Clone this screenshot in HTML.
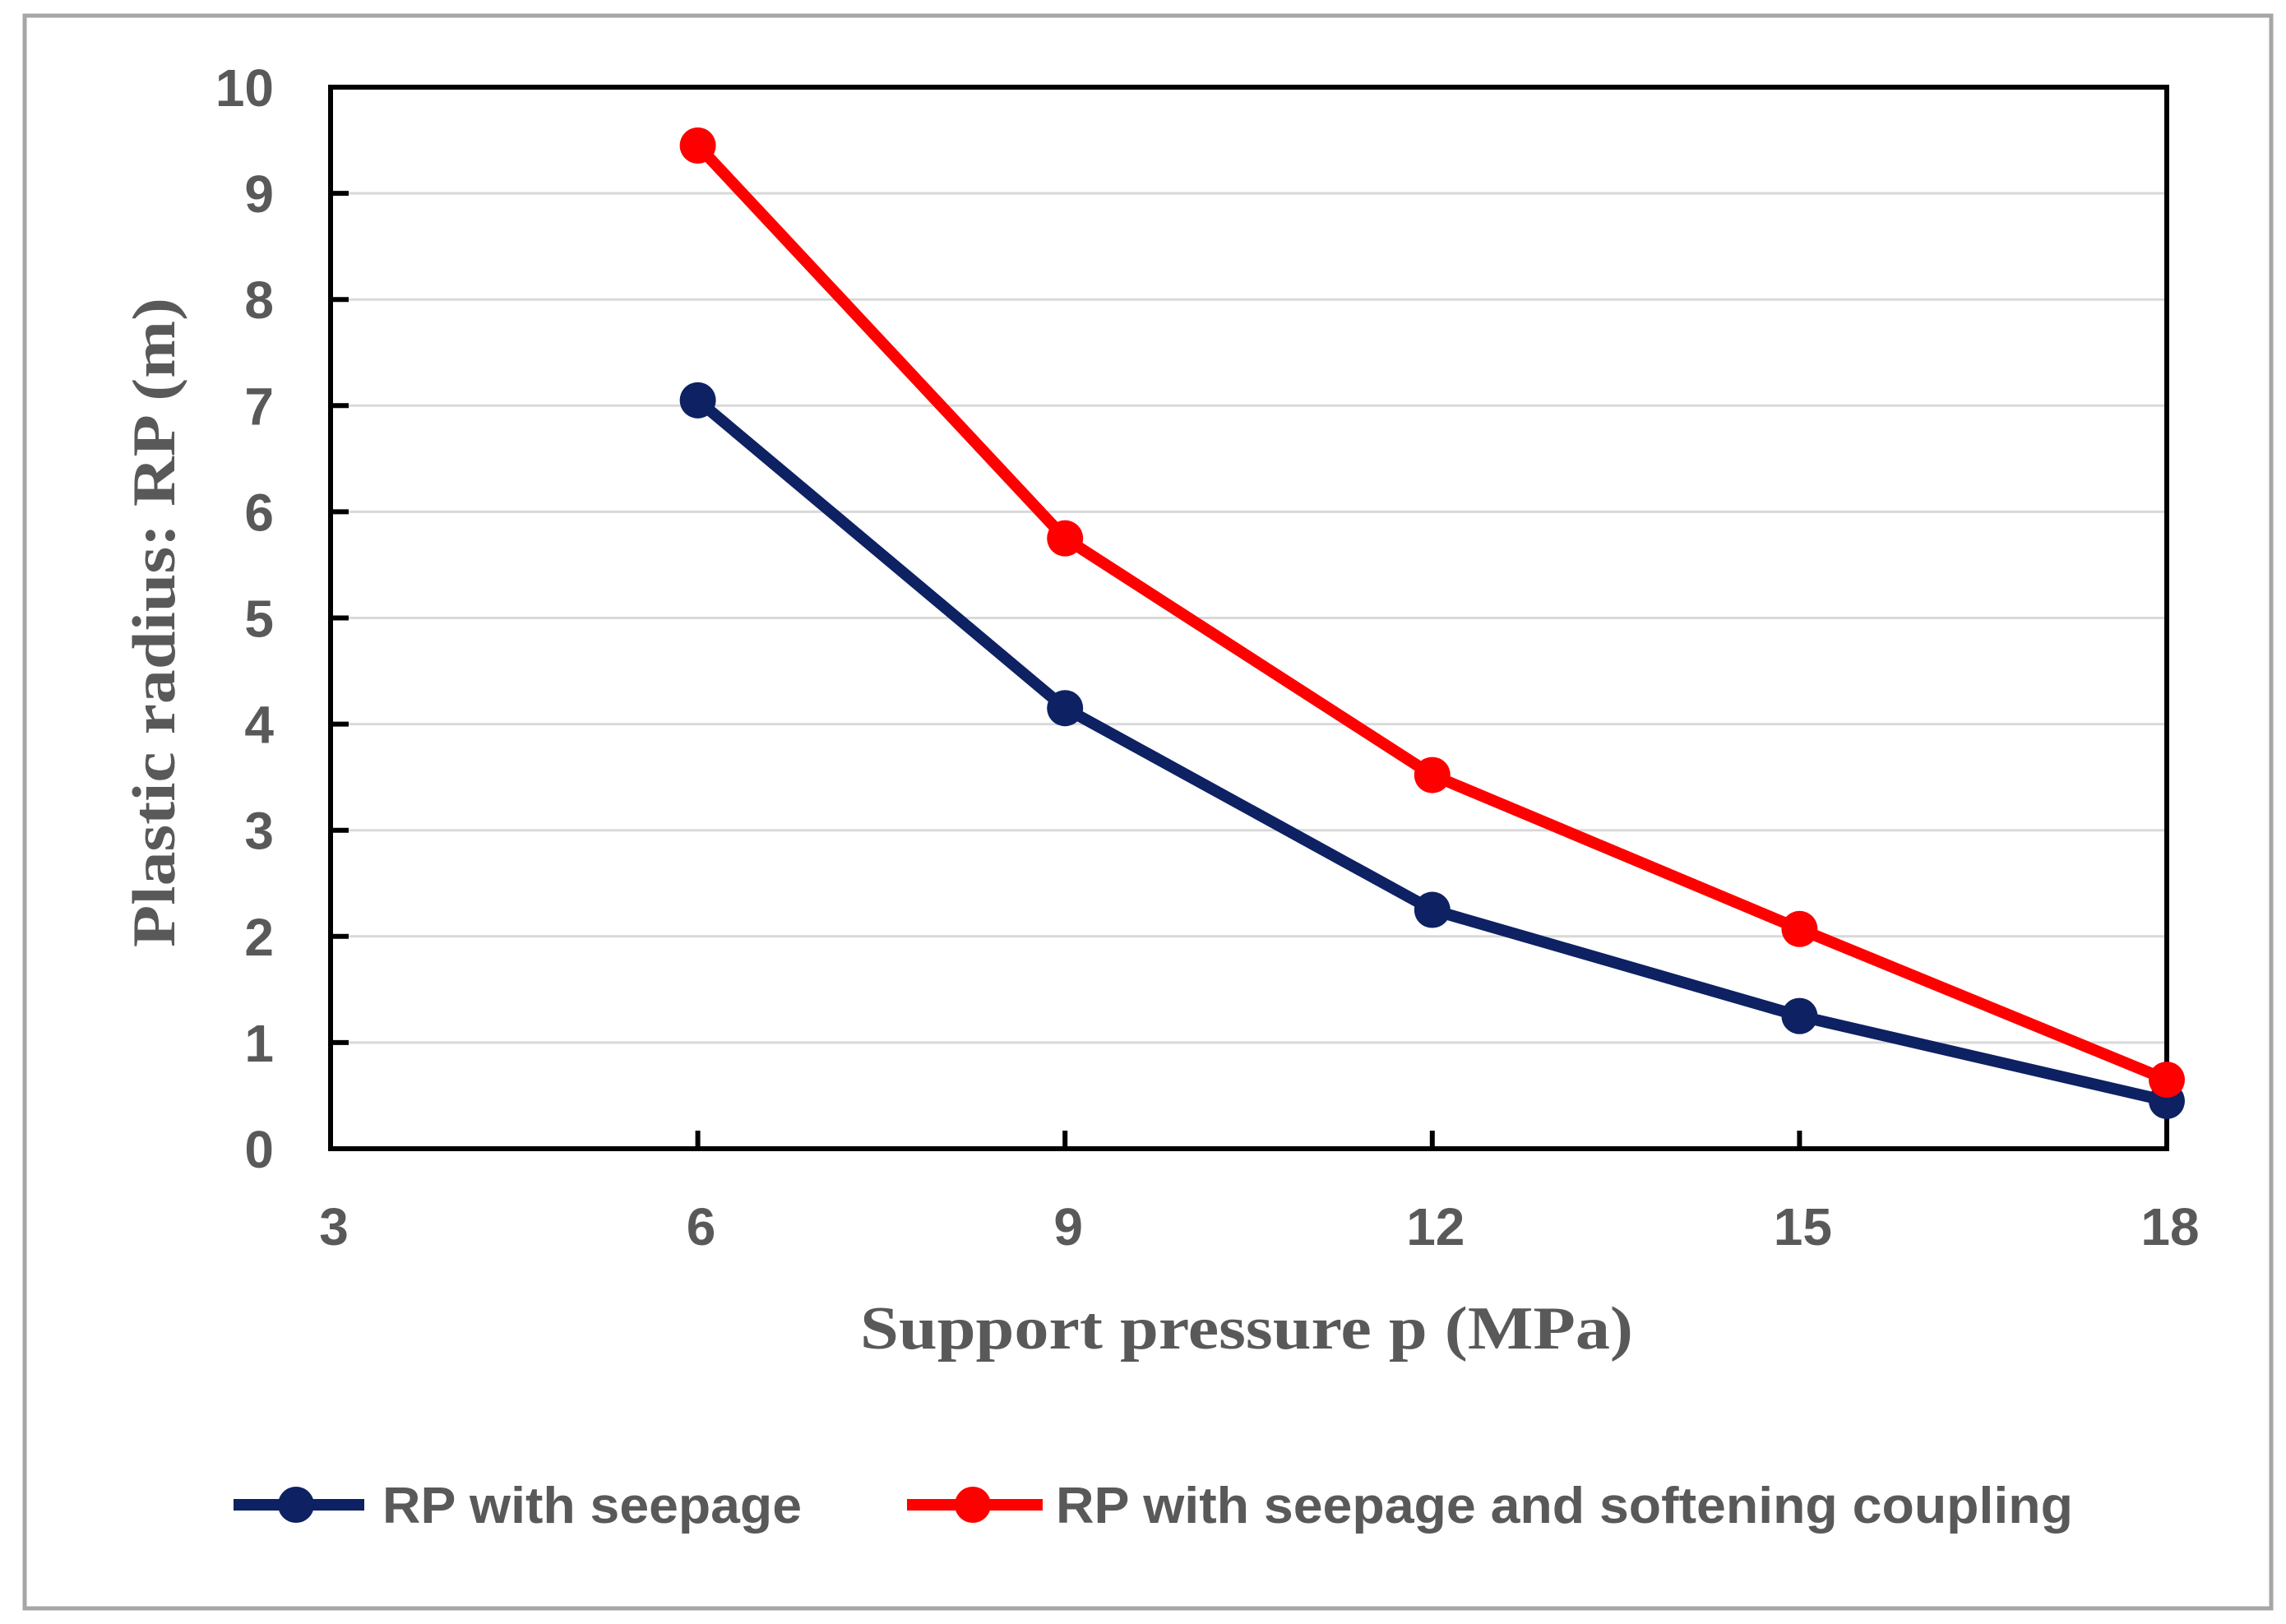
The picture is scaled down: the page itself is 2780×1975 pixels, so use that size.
<!DOCTYPE html>
<html><head><meta charset="utf-8"><style>
html,body{margin:0;padding:0;background:#fff;}
svg{display:block;}
</style></head><body>
<svg id="chart" width="2780" height="1975" viewBox="0 0 2780 1975" xmlns="http://www.w3.org/2000/svg">
<rect x="30" y="19" width="2732" height="1937" fill="#fff" stroke="#a6a6a6" stroke-width="5"/>
<g id="grid"></g>
<g id="axes"></g>
<g id="series"></g>
<text x="1516" y="1640" text-anchor="middle" font-family="Liberation Serif, serif" font-weight="bold" font-size="74" fill="#595959" textLength="940" lengthAdjust="spacingAndGlyphs">Support pressure p (MPa)</text>
<text transform="translate(212,757) rotate(-90)" text-anchor="middle" font-family="Liberation Serif, serif" font-weight="bold" font-size="74" fill="#595959" textLength="790" lengthAdjust="spacingAndGlyphs">Plastic radius:  RP (m)</text>
<g>
  <g>
    <line x1="284" y1="1830" x2="443" y2="1830" stroke="#0d2163" stroke-width="14"/>
    <circle cx="360" cy="1830" r="22" fill="#0d2163"/>
    <text x="465" y="1852" font-family="Liberation Sans, sans-serif" font-weight="bold" font-size="62" fill="#595959" textLength="510" lengthAdjust="spacingAndGlyphs">RP with seepage</text>
  </g>
  <g>
    <line x1="1103" y1="1830" x2="1268" y2="1830" stroke="#ff0000" stroke-width="14"/>
    <circle cx="1183" cy="1830" r="22" fill="#ff0000"/>
    <text x="1284" y="1852" font-family="Liberation Sans, sans-serif" font-weight="bold" font-size="62" fill="#595959" textLength="1237" lengthAdjust="spacingAndGlyphs">RP with seepage and softening coupling</text>
  </g>
</g>
</svg>
<script>
const categories = [6, 9, 12, 15, 18];
const seepage = [7.05, 4.15, 2.25, 1.25, 0.45];
const coupling = [9.45, 5.75, 3.52, 2.07, 0.65];
const xTicks = [3, 6, 9, 12, 15, 18];
const yTicks = [0, 1, 2, 3, 4, 5, 6, 7, 8, 9, 10];

const NS = 'http://www.w3.org/2000/svg';
const L = 402, R = 2635, T = 106, B = 1397;
function xs(v){ return L + (v - 3) / 15 * (R - L); }
function ys(v){ return B - v / 10 * (B - T); }
function mk(tag, attrs, parent){ const e = document.createElementNS(NS, tag); for (const k in attrs) e.setAttribute(k, attrs[k]); parent.appendChild(e); return e; }
const grid = document.getElementById('grid');
const axes = document.getElementById('axes');
const series = document.getElementById('series');

yTicks.forEach(t => {
  if (t > 0 && t < 10) {
    const g = mk('line', {x1: L, x2: R, y1: ys(t), y2: ys(t), stroke: '#d9d9d9', 'stroke-width': 3}, grid);
    
    
    const tk = mk('line', {x1: L, x2: L + 22, y1: ys(t), y2: ys(t), stroke: '#000', 'stroke-width': 6}, axes);
    
    
  }
  const lb = mk('text', {x: 333, y: ys(t) + 23, 'text-anchor': 'end', 'font-family': 'Liberation Sans, sans-serif', 'font-weight': 'bold', 'font-size': 64, fill: '#595959'}, axes);
  lb.textContent = t;
  
  
});
xTicks.forEach(t => {
  if (t > 3 && t < 18) {
    const tk = mk('line', {x1: xs(t), x2: xs(t), y1: B, y2: B - 22, stroke: '#000', 'stroke-width': 6}, axes);
    
    
  }
  const lb = mk('text', {x: xs(t) + 4, y: 1514, 'text-anchor': 'middle', 'font-family': 'Liberation Sans, sans-serif', 'font-weight': 'bold', 'font-size': 64, fill: '#595959'}, axes);
  lb.textContent = t;
  
  
});
const frame = mk('rect', {x: L, y: T, width: R - L, height: B - T, fill: 'none', stroke: '#000', 'stroke-width': 6}, axes);



function drawSeries(vals, color, name){
  const pts = vals.map((v, i) => xs(categories[i]) + ',' + ys(v)).join(' ');
  const pl = mk('polyline', {points: pts, fill: 'none', stroke: color, 'stroke-width': 14, 'stroke-linejoin': 'round'}, series);
  
  
  vals.forEach((v, i) => {
    const c = mk('circle', {cx: xs(categories[i]), cy: ys(v), r: 22, fill: color}, series);
    
    
  });
}
drawSeries(seepage, '#0d2163', 'seepage');
drawSeries(coupling, '#ff0000', 'coupling');
</script>
</body></html>
